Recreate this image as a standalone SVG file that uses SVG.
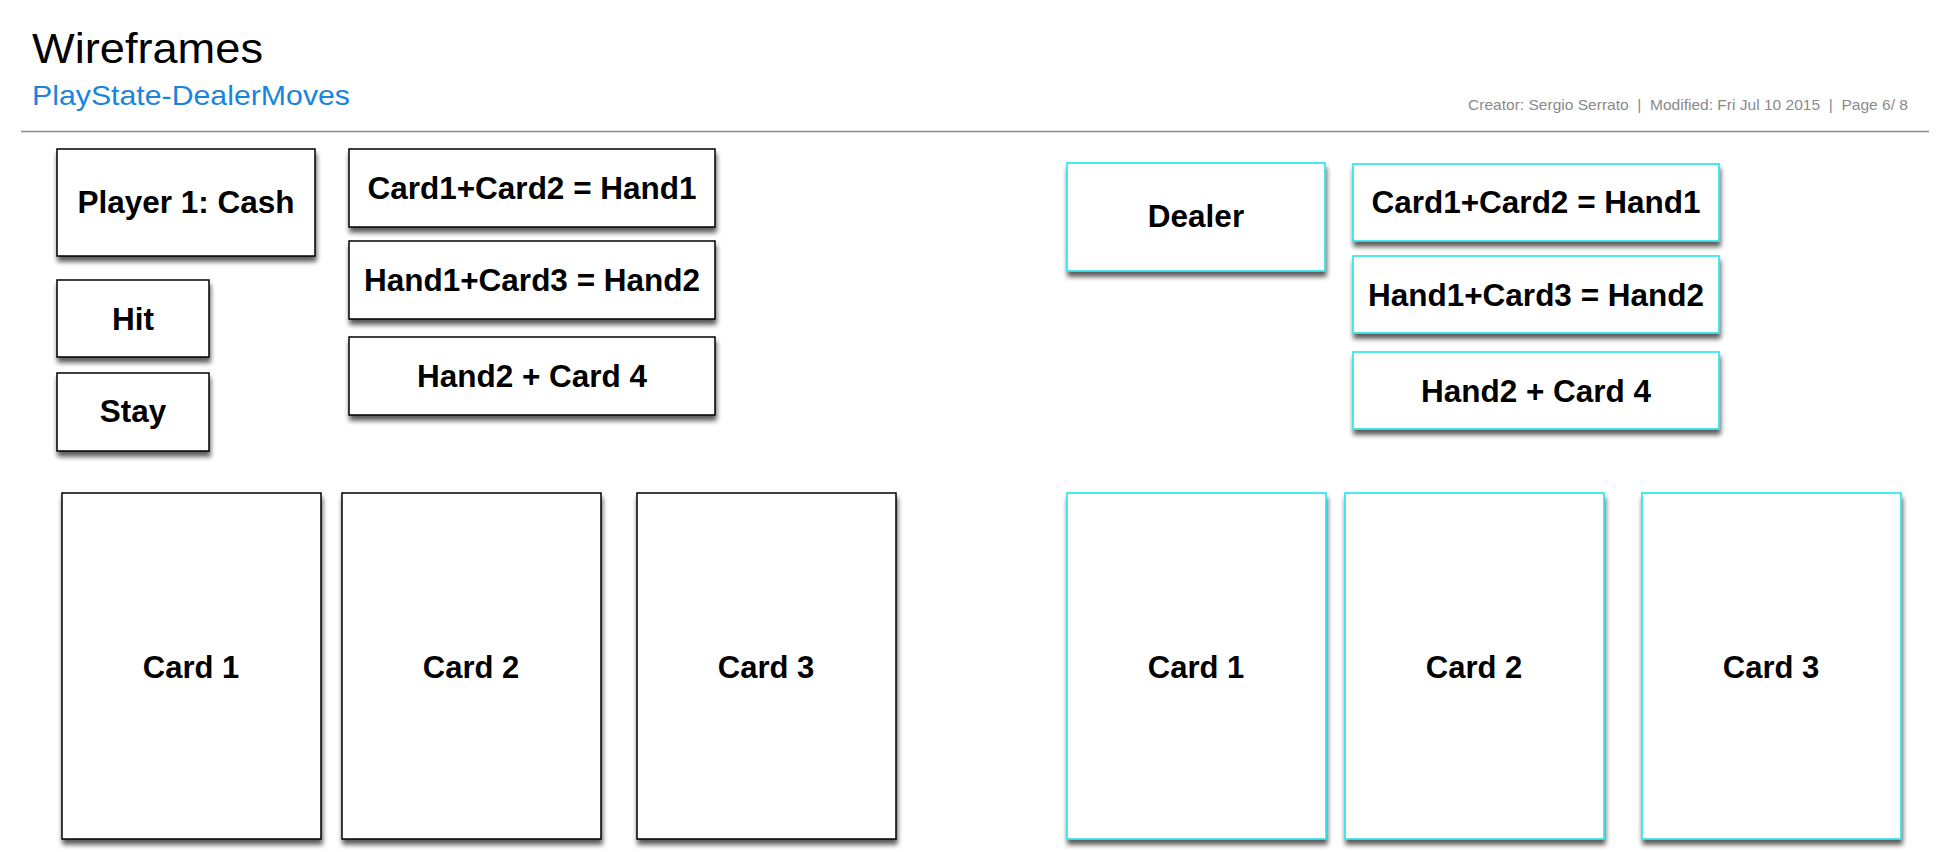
<svg xmlns="http://www.w3.org/2000/svg" width="1942" height="852" viewBox="0 0 1942 852">
<defs>
<filter id="sh" x="-10%" y="-10%" width="125%" height="130%">
<feGaussianBlur in="SourceAlpha" stdDeviation="2.5"/>
<feOffset dx="1" dy="5" result="o"/>
<feComponentTransfer><feFuncA type="linear" slope="0.65"/></feComponentTransfer>
<feMerge><feMergeNode/><feMergeNode in="SourceGraphic"/></feMerge>
</filter>
</defs>
<style>
.p rect{fill:#fff;stroke:#000;stroke-width:1.5;filter:url(#sh)}
.d rect{fill:#fff;stroke:#22e6ee;stroke-width:1.6;filter:url(#sh)}
.lb{font-family:"Liberation Sans",Arial,Helvetica,sans-serif;font-weight:bold;font-size:31.5px;fill:#000;text-anchor:middle}
.cd{font-family:"Liberation Sans",Arial,Helvetica,sans-serif;font-weight:bold;font-size:31px;fill:#000;text-anchor:middle}
</style>
<rect x="0" y="0" width="1942" height="852" fill="#fff"/>
<g id="header">
<text x="32" y="63" font-family="Liberation Sans, Arial, sans-serif" font-size="42.5" fill="#000" textLength="231" lengthAdjust="spacingAndGlyphs">Wireframes</text>
<text x="32" y="105" font-family="Liberation Sans, Arial, sans-serif" font-size="28" fill="#1a84dc" textLength="318" lengthAdjust="spacingAndGlyphs">PlayState-DealerMoves</text>
<text x="1468" y="110" font-family="Liberation Sans, Arial, sans-serif" font-size="15" fill="#8a8a8a" textLength="440" lengthAdjust="spacingAndGlyphs" xml:space="preserve" style="white-space:pre">Creator: Sergio Serrato  |  Modified: Fri Jul 10 2015  |  Page 6/ 8</text>
<line x1="21" y1="131.5" x2="1929" y2="131.5" stroke="#8c8c8c" stroke-width="1.5"/>
</g>
<g id="connectors"></g>
<g id="player" class="p">
<g id="player-cash"><rect x="57" y="149" width="258" height="107"/><text class="lb" x="186" y="213">Player 1: Cash</text></g>
<g id="hit"><rect x="57" y="280" width="152" height="77"/><text class="lb" x="133" y="330">Hit</text></g>
<g id="stay"><rect x="57" y="373" width="152" height="78"/><text class="lb" x="133" y="422">Stay</text></g>
<g id="p-hand1"><rect x="349" y="149" width="366" height="78"/><text class="lb" x="532" y="199">Card1+Card2 = Hand1</text></g>
<g id="p-hand2"><rect x="349" y="241" width="366" height="78"/><text class="lb" x="532" y="291">Hand1+Card3 = Hand2</text></g>
<g id="p-hand3"><rect x="349" y="337" width="366" height="78"/><text class="lb" x="532" y="387">Hand2 + Card 4</text></g>
<g id="p-card1"><rect x="62" y="493" width="259" height="346"/><text class="cd" x="191" y="678">Card 1</text></g>
<g id="p-card2"><rect x="342" y="493" width="259" height="346"/><text class="cd" x="471" y="678">Card 2</text></g>
<g id="p-card3"><rect x="637" y="493" width="259" height="346"/><text class="cd" x="766" y="678">Card 3</text></g>
</g>
<g id="dealer" class="d">
<g id="dealer-box"><rect x="1067" y="163" width="258" height="108"/><text class="lb" x="1196" y="227">Dealer</text></g>
<g id="d-hand1"><rect x="1353" y="164" width="366" height="77"/><text class="lb" x="1536" y="213">Card1+Card2 = Hand1</text></g>
<g id="d-hand2"><rect x="1353" y="256" width="366" height="77"/><text class="lb" x="1536" y="306">Hand1+Card3 = Hand2</text></g>
<g id="d-hand3"><rect x="1353" y="352" width="366" height="77"/><text class="lb" x="1536" y="402">Hand2 + Card 4</text></g>
<g id="d-card1"><rect x="1067" y="493" width="259" height="346"/><text class="cd" x="1196" y="678">Card 1</text></g>
<g id="d-card2"><rect x="1345" y="493" width="259" height="346"/><text class="cd" x="1474" y="678">Card 2</text></g>
<g id="d-card3"><rect x="1642" y="493" width="259" height="346"/><text class="cd" x="1771" y="678">Card 3</text></g>
</g>
</svg>
